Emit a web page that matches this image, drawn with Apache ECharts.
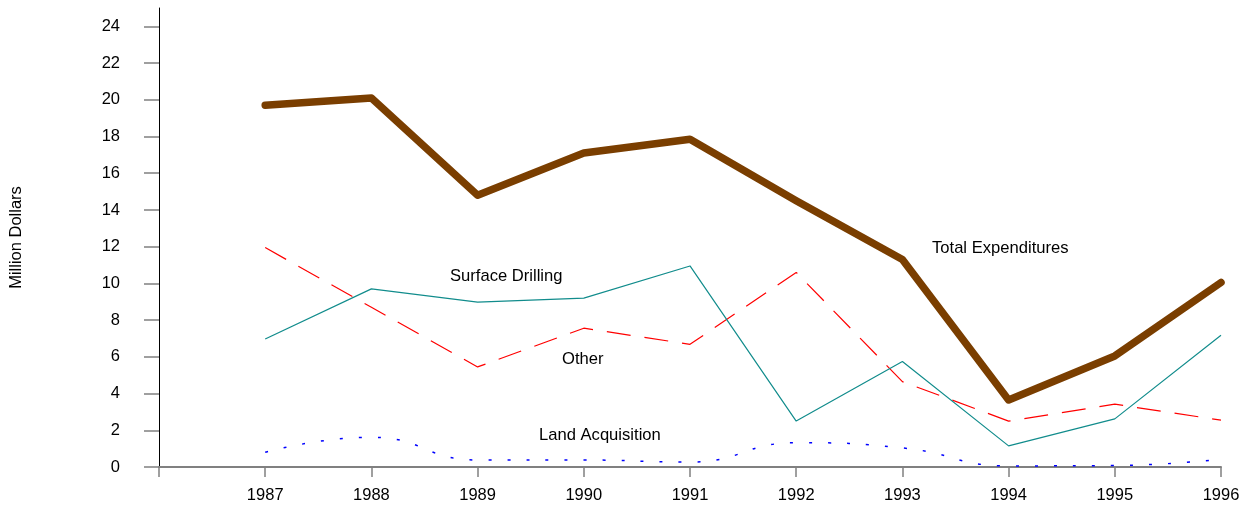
<!DOCTYPE html>
<html>
<head>
<meta charset="utf-8">
<script src="https://cdn.jsdelivr.net/npm/echarts@6/dist/echarts.min.js"></script>
<style>
  html, body { margin: 0; padding: 0; background: #fff; }
  #chart { width: 1243px; height: 506px; }
</style>
</head>
<body>
<div id="chart"></div>
<script>
const years = [1987, 1988, 1989, 1990, 1991, 1992, 1993, 1994, 1995, 1996]
const totalExpenditures = [19.7, 20.1, 14.8, 17.1, 17.85, 14.5, 11.3, 3.65, 6.05, 10.05]
const surfaceDrilling = [6.97, 9.7, 8.98, 9.2, 10.95, 2.5, 5.75, 1.15, 2.62, 7.18]
const other = [11.95, 8.7, 5.45, 7.56, 6.68, 10.6, 4.65, 2.5, 3.42, 2.55]
const landAcquisition = [0.8, 1.62, 0.38, 0.38, 0.27, 1.32, 1.04, 0.06, 0.08, 0.42]

const xTicks = [1986, 1987, 1988, 1989, 1990, 1991, 1992, 1993, 1994, 1995, 1996]
const yTicks = [0, 2, 4, 6, 8, 10, 12, 14, 16, 18, 20, 22, 24]

const font = 'Liberation Sans, Arial, sans-serif'
const pairs = (vals) => years.map((y, i) => [y, vals[i]])

const chart = echarts.init(document.getElementById('chart'), null, { renderer: 'canvas' })

const option = {
	backgroundColor: '#ffffff',
	animation: false,
	grid: { left: 159, right: 22, top: 8, bottom: 39, containLabel: false },
	xAxis: {
		type: 'value',
		min: 1986,
		max: 1996,
		interval: 1,
		splitLine: { show: false },
		axisLine: { show: true, lineStyle: { color: '#808080', width: 2 } },
		axisTick: { show: true, length: 10, customValues: xTicks, lineStyle: { color: '#808080', width: 1.5 } },
		axisLabel: {
			customValues: years,
			margin: 20,
			color: '#000',
			fontFamily: font,
			fontSize: 16.5,
			formatter: (v) => String(v),
		},
	},
	yAxis: {
		type: 'value',
		min: 0,
		max: 25,
		interval: 2,
		splitLine: { show: false },
		name: 'Million Dollars',
		nameLocation: 'middle',
		nameGap: 134,
		nameTextStyle: { color: '#000', fontFamily: font, fontSize: 16.5 },
		axisLine: { show: true, lineStyle: { color: '#000', width: 1 } },
		axisTick: { show: true, length: 15, customValues: yTicks, lineStyle: { color: '#808080', width: 1.5 } },
		axisLabel: {
			customValues: yTicks,
			margin: 39,
			color: '#000',
			fontFamily: font,
			fontSize: 16.5,
		},
	},
	series: [
		{
			name: 'Land Acquisition',
			type: 'line',
			data: pairs(landAcquisition),
			smooth: 0.5,
			symbol: 'none',
			lineStyle: { color: '#0000ff', width: 1.5, type: [3, 16] },
		},
		{
			name: 'Other',
			type: 'line',
			data: pairs(other),
			symbol: 'none',
			lineStyle: { color: '#ff0000', width: 1.2, type: [24, 14] },
		},
		{
			name: 'Surface Drilling',
			type: 'line',
			data: pairs(surfaceDrilling),
			symbol: 'none',
			lineStyle: { color: '#118c8c', width: 1.2 },
		},
		{
			name: 'Total Expenditures',
			type: 'line',
			data: pairs(totalExpenditures),
			symbol: 'none',
			lineStyle: { color: '#7a3e00', width: 7.5, cap: 'round', join: 'round' },
		},
	],
	graphic: [
		{ type: 'text', left: 932, top: 240, style: { text: 'Total Expenditures', font: '16.6px ' + font, fill: '#000' } },
		{ type: 'text', left: 450, top: 268, style: { text: 'Surface Drilling', font: '16.6px ' + font, fill: '#000' } },
		{ type: 'text', left: 562, top: 351, style: { text: 'Other', font: '16.6px ' + font, fill: '#000' } },
		{ type: 'text', left: 539, top: 427, style: { text: 'Land Acquisition', font: '16.6px ' + font, fill: '#000' } },
	],
}

chart.setOption(option)
</script>
</body>
</html>
